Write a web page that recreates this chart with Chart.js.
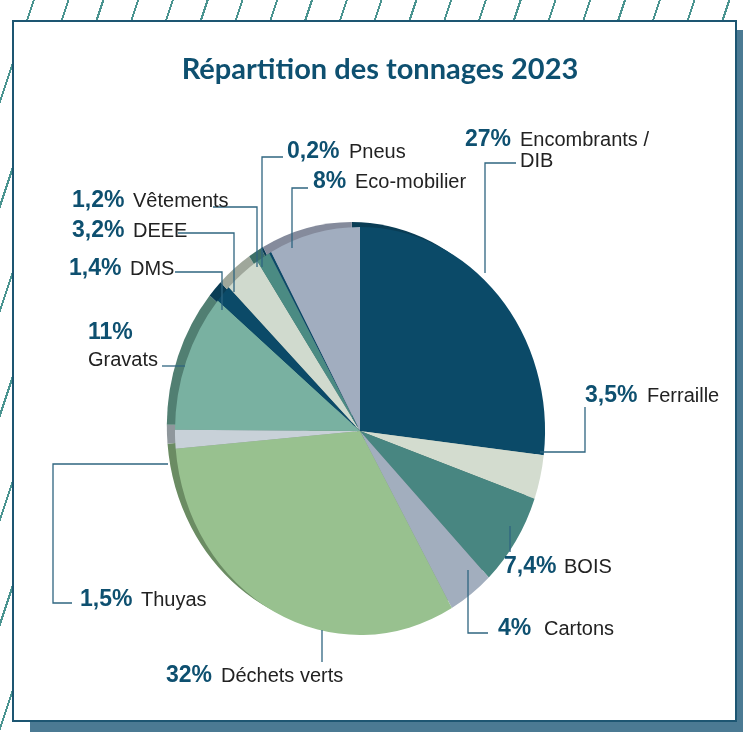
<!DOCTYPE html>
<html>
<head>
<meta charset="utf-8">
<script src="https://cdn.jsdelivr.net/npm/chart.js@4"></script>
<style>
  html, body { margin: 0; padding: 0; }
  body {
    width: 743px; height: 732px; position: relative; overflow: hidden;
    background: repeating-linear-gradient(108.4deg, #fff 0px, #fff 31px, #4a9490 31px, #4a9490 33px);
  }
  #card {
    position: absolute; left: 12px; top: 20px; width: 721px; height: 698px;
    background: #fff; border: 2px solid #1d5672;
    box-shadow: 18px 10px 0 #4b7a93;
  }
  #canvas { position: absolute; left: 0; top: 0; }
</style>
</head>
<body>
<div id="card"></div>
<canvas id="canvas" width="743" height="732"></canvas>
<script>
'use strict';

// data
var categories = ['Encombrants / DIB', 'Ferraille', 'BOIS', 'Cartons', 'Déchets verts', 'Thuyas',
                  'Gravats', 'DMS', 'DEEE', 'Vêtements', 'Pneus', 'Eco-mobilier'];
var percentages = [27, 3.5, 7.4, 4, 32, 1.5, 11, 1.4, 3.2, 1.2, 0.2, 8];
var percentLabels = ['27%', '3,5%', '7,4%', '4%', '32%', '1,5%', '11%', '1,4%', '3,2%', '1,2%', '0,2%', '8%'];

// styles
var topColors = ['#0b4a68', '#d3dccf', '#488681', '#a2aebe', '#98c18f', '#c8d1d8',
                 '#79b1a1', '#0b4a68', '#d0dace', '#4b8b83', '#0b4a68', '#a1adbf'];
var rimColors = ['#0a3d55', '#a8b3a8', '#3a6e6a', '#838e9c', '#6b8c63', '#8f979c',
                 '#517f72', '#0a3d55', '#9fa79b', '#3d7068', '#0a3d55', '#858b9c'];

// label layout: percent pos, name lines, leader path
var labelLayout = [
    {p: [465, 146], n: [[520, 146, 'Encombrants /'], [520, 167, 'DIB']], line: [[516,163],[485,163],[485,273]]},
    {p: [585, 402], n: [[647, 402, 'Ferraille']], line: [[585,407],[585,452],[540,452]]},
    {p: [504, 573], n: [[564, 573, 'BOIS']], line: [[510,526],[510,552]]},
    {p: [498, 635], n: [[544, 635, 'Cartons']], line: [[468,570],[468,633],[488,633]]},
    {p: [166, 682], n: [[221, 682, 'Déchets verts']], line: [[322,630],[322,662]]},
    {p: [80, 606], n: [[141, 606, 'Thuyas']], line: [[72,603],[53,603],[53,464],[168,464]]},
    {p: [88, 339], n: [[88, 366, 'Gravats']], line: [[162,366],[185,366]]},
    {p: [69, 275], n: [[130, 275, 'DMS']], line: [[175,272],[222,272],[222,310]]},
    {p: [72, 237], n: [[133, 237, 'DEEE']], line: [[178,233],[234,233],[234,292]]},
    {p: [72, 207], n: [[133, 207, 'Vêtements']], line: [[213,207],[257,207],[257,267]]},
    {p: [287, 158], n: [[349, 158, 'Pneus']], line: [[283,157],[262,157],[262,267]]},
    {p: [313, 188], n: [[355, 188, 'Eco-mobilier']], line: [[308,188],[292,188],[292,248]]}
];

var squeezeX = 0.907;

var tiltPlugin = {
    id: 'tilt',
    beforeDatasetsDraw: function (chart) {
        var ctx = chart.ctx;
        var arcs = chart.getDatasetMeta(0).data;
        var cx = arcs[0].x, cy = arcs[0].y;
        ctx.save();
        ctx.translate(cx, cy);
        ctx.scale(squeezeX, 1);
        ctx.translate(-cx, -cy);
        // depth rim under the top face
        ctx.save();
        ctx.translate(-9, -5);
        arcs.forEach(function (a, i) {
            ctx.beginPath();
            ctx.moveTo(a.x, a.y);
            ctx.arc(a.x, a.y, a.outerRadius, a.startAngle, a.endAngle);
            ctx.closePath();
            ctx.fillStyle = rimColors[i];
            ctx.fill();
        });
        ctx.restore();
    },
    afterDatasetsDraw: function (chart) {
        chart.ctx.restore();
    },
    afterDraw: function (chart) {
        var ctx = chart.ctx;
        ctx.save();
        ctx.font = 'bold 29px Lato, "DejaVu Sans", sans-serif';
        ctx.fillStyle = '#0e5070';
        ctx.textAlign = 'center';
        ctx.textBaseline = 'alphabetic';
        ctx.fillText('Répartition des tonnages 2023', 380, 79);
        ctx.textAlign = 'left';
        labelLayout.forEach(function (l, i) {
            ctx.strokeStyle = '#2f6580';
            ctx.lineWidth = 1.3;
            ctx.beginPath();
            l.line.forEach(function (pt, k) {
                if (k === 0) ctx.moveTo(pt[0], pt[1]); else ctx.lineTo(pt[0], pt[1]);
            });
            ctx.stroke();
            ctx.font = 'bold 23px "Liberation Sans", Arial, sans-serif';
            ctx.fillStyle = '#0e5070';
            ctx.fillText(percentLabels[i], l.p[0], l.p[1]);
            ctx.font = '20px "Liberation Sans", Arial, sans-serif';
            ctx.fillStyle = '#222222';
            l.n.forEach(function (t) { ctx.fillText(t[2], t[0], t[1]); });
        });
        ctx.restore();
    }
};

var ctx = document.getElementById('canvas').getContext('2d');
var myPie = new Chart(ctx, {
    type: 'pie',
    data: {
        labels: categories,
        datasets: [{
            data: percentages,
            backgroundColor: topColors,
            borderWidth: 0
        }]
    },
    options: {
        responsive: false,
        animation: false,
        layout: { padding: { left: 156, right: 179, top: 227, bottom: 97 } },
        plugins: {
            legend: { display: false },
            tooltip: { enabled: false },
            title: { display: false }
        }
    },
    plugins: [tiltPlugin]
});
</script>
</body>
</html>
